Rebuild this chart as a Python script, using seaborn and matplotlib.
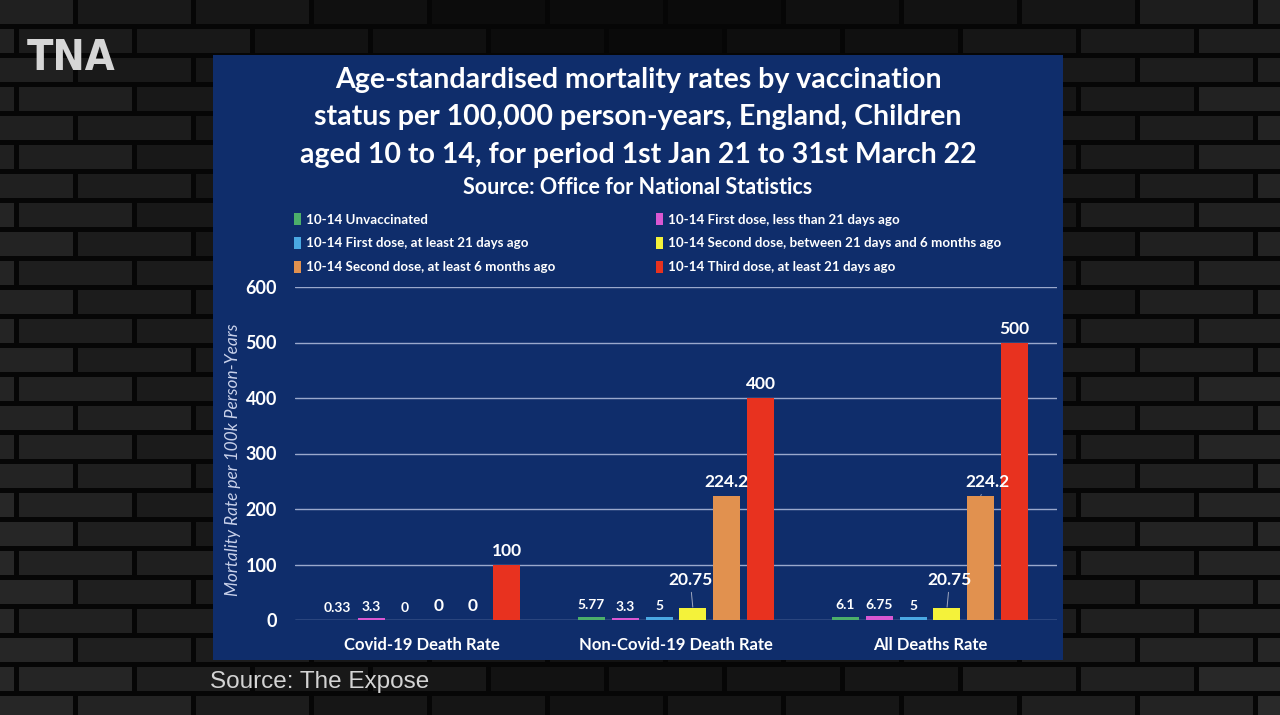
import numpy as np
import pandas as pd
import seaborn as sns
import matplotlib
matplotlib.use("Agg")
import matplotlib.pyplot as plt
from matplotlib.patches import Rectangle, Patch

# ---------------- data ----------------
categories = ["Covid-19 Death Rate", "Non-Covid-19 Death Rate", "All Deaths Rate"]
series = [
    "10-14 Unvaccinated",
    "10-14 First dose, less than 21 days ago",
    "10-14 First dose, at least 21 days ago",
    "10-14 Second dose, between 21 days and 6 months ago",
    "10-14 Second dose, at least 6 months ago",
    "10-14 Third dose, at least 21 days ago",
]
unvaccinated = [0.33, 5.77, 6.1]
first_dose_lt21 = [3.3, 3.3, 6.75]
first_dose_ge21 = [0, 5, 5]
second_dose_21d_6m = [0, 20.75, 20.75]
second_dose_ge6m = [0, 224.2, 224.2]
third_dose_ge21 = [100, 400, 500]
y_ticks = [0, 100, 200, 300, 400, 500, 600]

values = [unvaccinated, first_dose_lt21, first_dose_ge21,
          second_dose_21d_6m, second_dose_ge6m, third_dose_ge21]
df = pd.DataFrame([
    {"category": c, "series": s, "rate": v}
    for s, vals in zip(series, values)
    for c, v in zip(categories, vals)
])

# ---------------- style ----------------
colors = ["#4caf6a", "#d957d2", "#4aa8e3", "#f4f23a", "#e1914f", "#e8321f"]
panel_blue = "#0f2d6b"
FONT = "Lato"
W, H = 1280, 715

sns.set_theme(style="white")
plt.rcParams["font.family"] = [FONT, "DejaVu Sans"]

fig = plt.figure(figsize=(W / 100, H / 100), dpi=100)
fig.patch.set_facecolor("#060606")

def fx(px):
    return px / W

def fy(py):
    return 1 - py / H

# brick wall background (decoration)
row_h, brick_w, gap = 29, 118, 5
for r in range(int(H / row_h) + 2):
    off = (brick_w / 2) * (r % 2) - 40
    y0 = r * row_h
    c = 0
    x0 = -brick_w + off
    while x0 < W + brick_w:
        cx = x0 + brick_w / 2
        cy = y0 + row_h / 2
        edge = min(1.0, abs(cx - W / 2) / (W / 2))
        shade = 0.035 + 0.085 * edge ** 1.5 + 0.03 * (cy / H) + 0.012 * ((r * 7 + c * 3) % 5) / 4
        fig.patches.append(Rectangle((fx(x0), fy(y0 + row_h - gap)), fx(brick_w - gap), (row_h - gap) / H,
                                     transform=fig.transFigure, facecolor=(shade, shade, shade),
                                     edgecolor="none", zorder=-10))
        x0 += brick_w
        c += 1

# blue panel
fig.patches.append(Rectangle((fx(213), fy(660)), fx(1063 - 213), (660 - 55) / H,
                             transform=fig.transFigure, facecolor=panel_blue,
                             edgecolor="none", zorder=-5))

# axes
ax = fig.add_axes([fx(295), fy(620), fx(1057 - 295), (620 - 287) / H])
ax.set_facecolor("none")
sns.barplot(data=df, x="category", y="rate", hue="series", palette=colors,
            width=0.8, gap=0.2, ax=ax, legend=False, saturation=1, errorbar=None,
            linewidth=0, edgecolor="none")
ax.set_xlim(-0.5, 2.5)
ax.set_ylim(0, 600)
ax.set_yticks(y_ticks)
ax.set_yticklabels([str(t) for t in y_ticks], fontsize=13, fontweight="bold", color="white")
ax.tick_params(axis="y", length=0, pad=13)
ax.tick_params(axis="x", length=0, pad=12, labelsize=12, labelcolor="white")
for lab in ax.get_xticklabels():
    lab.set_fontweight("bold")
ax.grid(axis="y", color="#9aa8cc", linewidth=1.0)
ax.set_axisbelow(True)
for sp in ax.spines.values():
    sp.set_visible(False)
ax.set_xlabel("")
ax.set_ylabel("Mortality Rate per 100k Person-Years", fontsize=12.4, style="italic",
              color="#c9d1ea", labelpad=4)
ax.yaxis.set_label_coords(-0.071, 0.48)

# value labels
leaders = {(3, 1): (-2, 15), (3, 2): (2, 15), (4, 2): (5, 4)}
for si, cont in enumerate(ax.containers):
    for ci, bar in enumerate(cont):
        v = values[si][ci]
        x = bar.get_x() + bar.get_width() / 2
        big = si >= 3
        size = 12.5 if big else 10
        dx, dy = leaders.get((si, ci), (0, 4))
        kw = {}
        if (si, ci) in leaders:
            kw["arrowprops"] = dict(arrowstyle="-", color="#a0a8c0", lw=0.7, shrinkA=1, shrinkB=1)
        ax.annotate(f"{v:g}", xy=(x, v), xytext=(dx, dy), textcoords="offset points",
                    ha="center", va="bottom", fontsize=size, fontweight="bold",
                    color="white", **kw)

# titles
title_lines = [
    "Age-standardised mortality rates by vaccination",
    "status per 100,000 person-years, England, Children",
    "aged 10 to 14, for period 1st Jan 21 to 31st March 22",
]
for line, py in zip(title_lines, [80, 117, 155]):
    fig.text(fx(638), fy(py), line, ha="center", va="center", fontsize=20.5,
             fontweight="bold", color="white")
fig.text(fx(638), fy(188), "Source: Office for National Statistics", ha="center", va="center",
         fontsize=15.5, fontweight="bold", color="white")

# legend (row-major order like the reference)
handles = [Patch(facecolor=c, edgecolor="none") for c in colors]
order = [0, 2, 4, 1, 3, 5]
fig.legend([handles[i] for i in order], [series[i] for i in order],
           ncol=2, loc="upper left", bbox_to_anchor=(fx(294), fy(213)),
           frameon=False, labelcolor="white", prop={"weight": "bold", "size": 9.6},
           handlelength=0.55, handleheight=1.0, handletextpad=0.35,
           columnspacing=7.55, labelspacing=0.85, borderaxespad=0, borderpad=0)

# logo and source
fig.text(fx(27), fy(58), "TNA", ha="left", va="center", fontsize=31, fontweight="bold",
         family="DejaVu Sans", fontstretch="condensed", color="#d6d6d6")
fig.text(fx(210), fy(682), "Source: The Expose", ha="left", va="center", fontsize=17.5,
         family=["Liberation Sans", "DejaVu Sans"], color="#d4d4d4")

fig.savefig("out.png", dpi=100, facecolor=fig.get_facecolor())
